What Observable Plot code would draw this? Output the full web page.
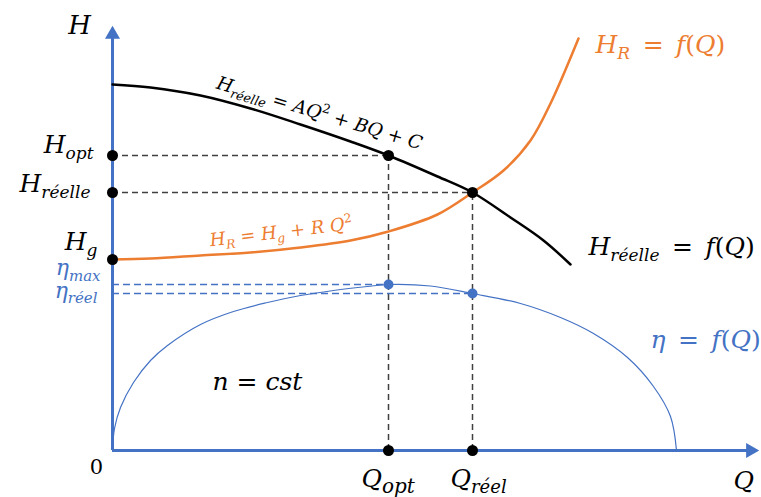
<!DOCTYPE html>
<html><head><meta charset="utf-8">
<script src="https://cdn.jsdelivr.net/npm/d3@7"></script>
<script src="https://cdn.jsdelivr.net/npm/@observablehq/plot@0.6"></script>
<style>body{margin:0;background:#fff}</style>
</head><body><div id="chart"></div>
<script>
// ---- data (abstract units: Q flow, H head / efficiency) ----
const pumpQ = [0, 38, 88, 138, 188, 238, 276, 325, 360, 398, 431, 458];
const pumpH = [366, 363, 355, 342, 326, 309, 295, 274, 258, 233, 210, 186];
const netQ  = [0, 38, 88, 138, 188, 238, 276, 325, 360, 391, 418, 438, 466];
const netH  = [191, 192, 195, 198, 203, 210, 219, 236, 258, 280, 310, 347, 412];
const effQ  = [0, 2, 8, 21, 38, 55, 88, 121, 155, 188, 221, 255, 276, 318, 360, 408, 448, 481, 515, 541, 558, 564];
const effH  = [0, 22, 43, 68, 90, 105, 126, 139, 148, 155, 160, 164, 166, 164.5, 157, 147, 133, 117, 93, 64, 34, 0];
const Qopt = 276, Qreel = 360, Hopt = 295, Hreelle = 258, Hg = 191, etaMax = 166, etaReel = 157;
const qAxisEnd = 640, hAxisEnd = 414, qArrow = 638, hArrow = 416;

// label texts and anchors (data units)
const sp = "\u2002";
const labelText = ["H", "H_{opt}", "H_{réelle}", "H_{g}", "η_{max}", "η_{réel}", "0",
  "Q_{opt}", "Q_{réel}", "Q", "H_{R}" + sp + "=" + sp + "f(Q)", "H_{réelle}" + sp + "=" + sp + "f(Q)",
  "η" + sp + "=" + sp + "f(Q)", "n = cst",
  "H_{réelle} = AQ^{2} + BQ + C", "H_{R} = H_{g} + R Q^{2}"];
const labelQ = [-33, -19, -22, -15, -12, -15, -16, 249, 338, 621, 483, 476, 538, 100, 104.6, 97.4];
const labelH = [425, 306, 267, 209, 182.5, 160, -16.5, -28, -28, -30, 406, 204, 111, 69, 368, 210];

const blue = "#4472C4", orange = "#ED7D31", dash = "#404040";
const font = "DejaVu Serif";
const pts = (Q, H) => Q.map((q, i) => ({q, h: H[i]}));

const styles = [
  {anchor: "middle", size: 26, color: "#000"},
  {anchor: "end", size: 25, color: "#000"},
  {anchor: "end", size: 25, color: "#000"},
  {anchor: "end", size: 25, color: "#000"},
  {anchor: "end", size: 22, color: blue},
  {anchor: "end", size: 22, color: blue},
  {anchor: "middle", size: 21, color: "#000"},
  {anchor: "start", size: 25, color: "#000", sub: 0.8},
  {anchor: "start", size: 25, color: "#000", sub: 0.72},
  {anchor: "start", size: 25, color: "#000"},
  {anchor: "start", size: 25, color: orange},
  {anchor: "start", size: 25, color: "#000"},
  {anchor: "start", size: 25, color: blue},
  {anchor: "start", size: 25, color: "#000"},
  {anchor: "start", size: 18.5, color: "#000", rotate: 16.7},
  {anchor: "start", size: 18, color: orange, rotate: -6.8}
];

const textMarks = labelText.map((t, i) => Plot.text([{t, q: labelQ[i], h: labelH[i]}], {
  x: "q", y: "h", text: "t", textAnchor: styles[i].anchor, fontSize: styles[i].size,
  fill: styles[i].color, fontFamily: font, rotate: styles[i].rotate || 0
}));

const chart = Plot.plot({
  width: 761, height: 497,
  marginLeft: 112, marginRight: 0, marginTop: 0, marginBottom: 47,
  x: {domain: [0, 649], axis: null},
  y: {domain: [0, 450], axis: null},
  style: {background: "#fff"},
  marks: [
    // dashed guides
    Plot.ruleY([Hopt], {x1: 0, x2: Qopt, stroke: dash, strokeWidth: 1.5, strokeDasharray: "6,4"}),
    Plot.ruleY([Hreelle], {x1: 0, x2: Qreel, stroke: dash, strokeWidth: 1.5, strokeDasharray: "6,4"}),
    Plot.ruleX([Qopt], {y1: 0, y2: Hopt, stroke: dash, strokeWidth: 1.5, strokeDasharray: "6,4"}),
    Plot.ruleX([Qreel], {y1: 0, y2: Hreelle, stroke: dash, strokeWidth: 1.5, strokeDasharray: "6,4"}),
    Plot.ruleY([etaMax], {x1: 0, x2: Qopt, stroke: blue, strokeWidth: 1.5, strokeDasharray: "7,4"}),
    Plot.ruleY([etaReel], {x1: 0, x2: Qreel, stroke: blue, strokeWidth: 1.5, strokeDasharray: "7,4"}),
    // axes
    Plot.ruleY([0], {x1: 0, x2: qAxisEnd, stroke: blue, strokeWidth: 3}),
    Plot.ruleX([0], {y1: 0, y2: hAxisEnd, stroke: blue, strokeWidth: 3}),
    Plot.dot([{q: qArrow, h: 0}], {x: "q", y: "h", symbol: "triangle", r: 5.6, fill: blue, stroke: null, rotate: 90}),
    Plot.dot([{q: 0, h: hArrow}], {x: "q", y: "h", symbol: "triangle", r: 5.6, fill: blue, stroke: null}),
    // curves
    Plot.line(pts(effQ, effH), {x: "q", y: "h", stroke: blue, strokeWidth: 1.2, curve: "catmull-rom"}),
    Plot.line(pts(netQ, netH), {x: "q", y: "h", stroke: orange, strokeWidth: 2.5, curve: "catmull-rom"}),
    Plot.line(pts(pumpQ, pumpH), {x: "q", y: "h", stroke: "#000", strokeWidth: 2.5, curve: "catmull-rom"}),
    // points
    Plot.dot([{q: 0, h: Hopt}, {q: 0, h: Hreelle}, {q: 0, h: Hg}, {q: Qopt, h: Hopt}, {q: Qreel, h: Hreelle}, {q: Qopt, h: 0}, {q: Qreel, h: 0}],
      {x: "q", y: "h", r: 5.5, fill: "#000", stroke: null}),
    Plot.dot([{q: Qopt, h: etaMax}, {q: Qreel, h: etaReel}], {x: "q", y: "h", r: 5, fill: blue, stroke: null}),
    ...textMarks
  ]
});
document.getElementById("chart").appendChild(chart);

// math-style typesetting: italic letters, sub/superscripts
const NS = "http://www.w3.org/2000/svg";
const letterRe = /[A-Za-zÀ-ÿηα-ω]+|[^A-Za-zÀ-ÿηα-ω]+/g;
const subScale = new Map(labelText.map((t, i) => [t, styles[i].sub || 0.68]));
chart.querySelectorAll("text").forEach(t => {
  const s = t.textContent;
  const fs = parseFloat(getComputedStyle(t).fontSize);
  const k = subScale.get(s) || 0.68;
  const parts = [];
  const re = /([_^])\{([^}]*)\}/g;
  let last = 0, m;
  while ((m = re.exec(s))) {
    if (m.index > last) parts.push({k: "n", s: s.slice(last, m.index)});
    parts.push({k: m[1] === "_" ? "sub" : "sup", s: m[2]});
    last = re.lastIndex;
  }
  if (last < s.length) parts.push({k: "n", s: s.slice(last)});
  while (t.firstChild) t.removeChild(t.firstChild);
  t.setAttribute("style", (t.getAttribute("style") || "") + ";white-space:pre");
  let shift = 0;
  for (const p of parts) {
    const target = p.k === "sub" ? 0.25 * fs : p.k === "sup" ? -0.42 * fs : 0;
    const runs = p.s.match(letterRe) || [];
    runs.forEach((r, i) => {
      const ts = document.createElementNS(NS, "tspan");
      ts.textContent = r;
      if (/[A-Za-zÀ-ÿηα-ω]/.test(r)) ts.setAttribute("font-style", "italic");
      if (p.k !== "n") ts.setAttribute("font-size", ((p.k === "sub" ? k : 0.68) * fs) + "px");
      if (i === 0 && target !== shift) { ts.setAttribute("dy", (target - shift) + "px"); shift = target; }
      t.appendChild(ts);
    });
  }
});
</script>
</body></html>
